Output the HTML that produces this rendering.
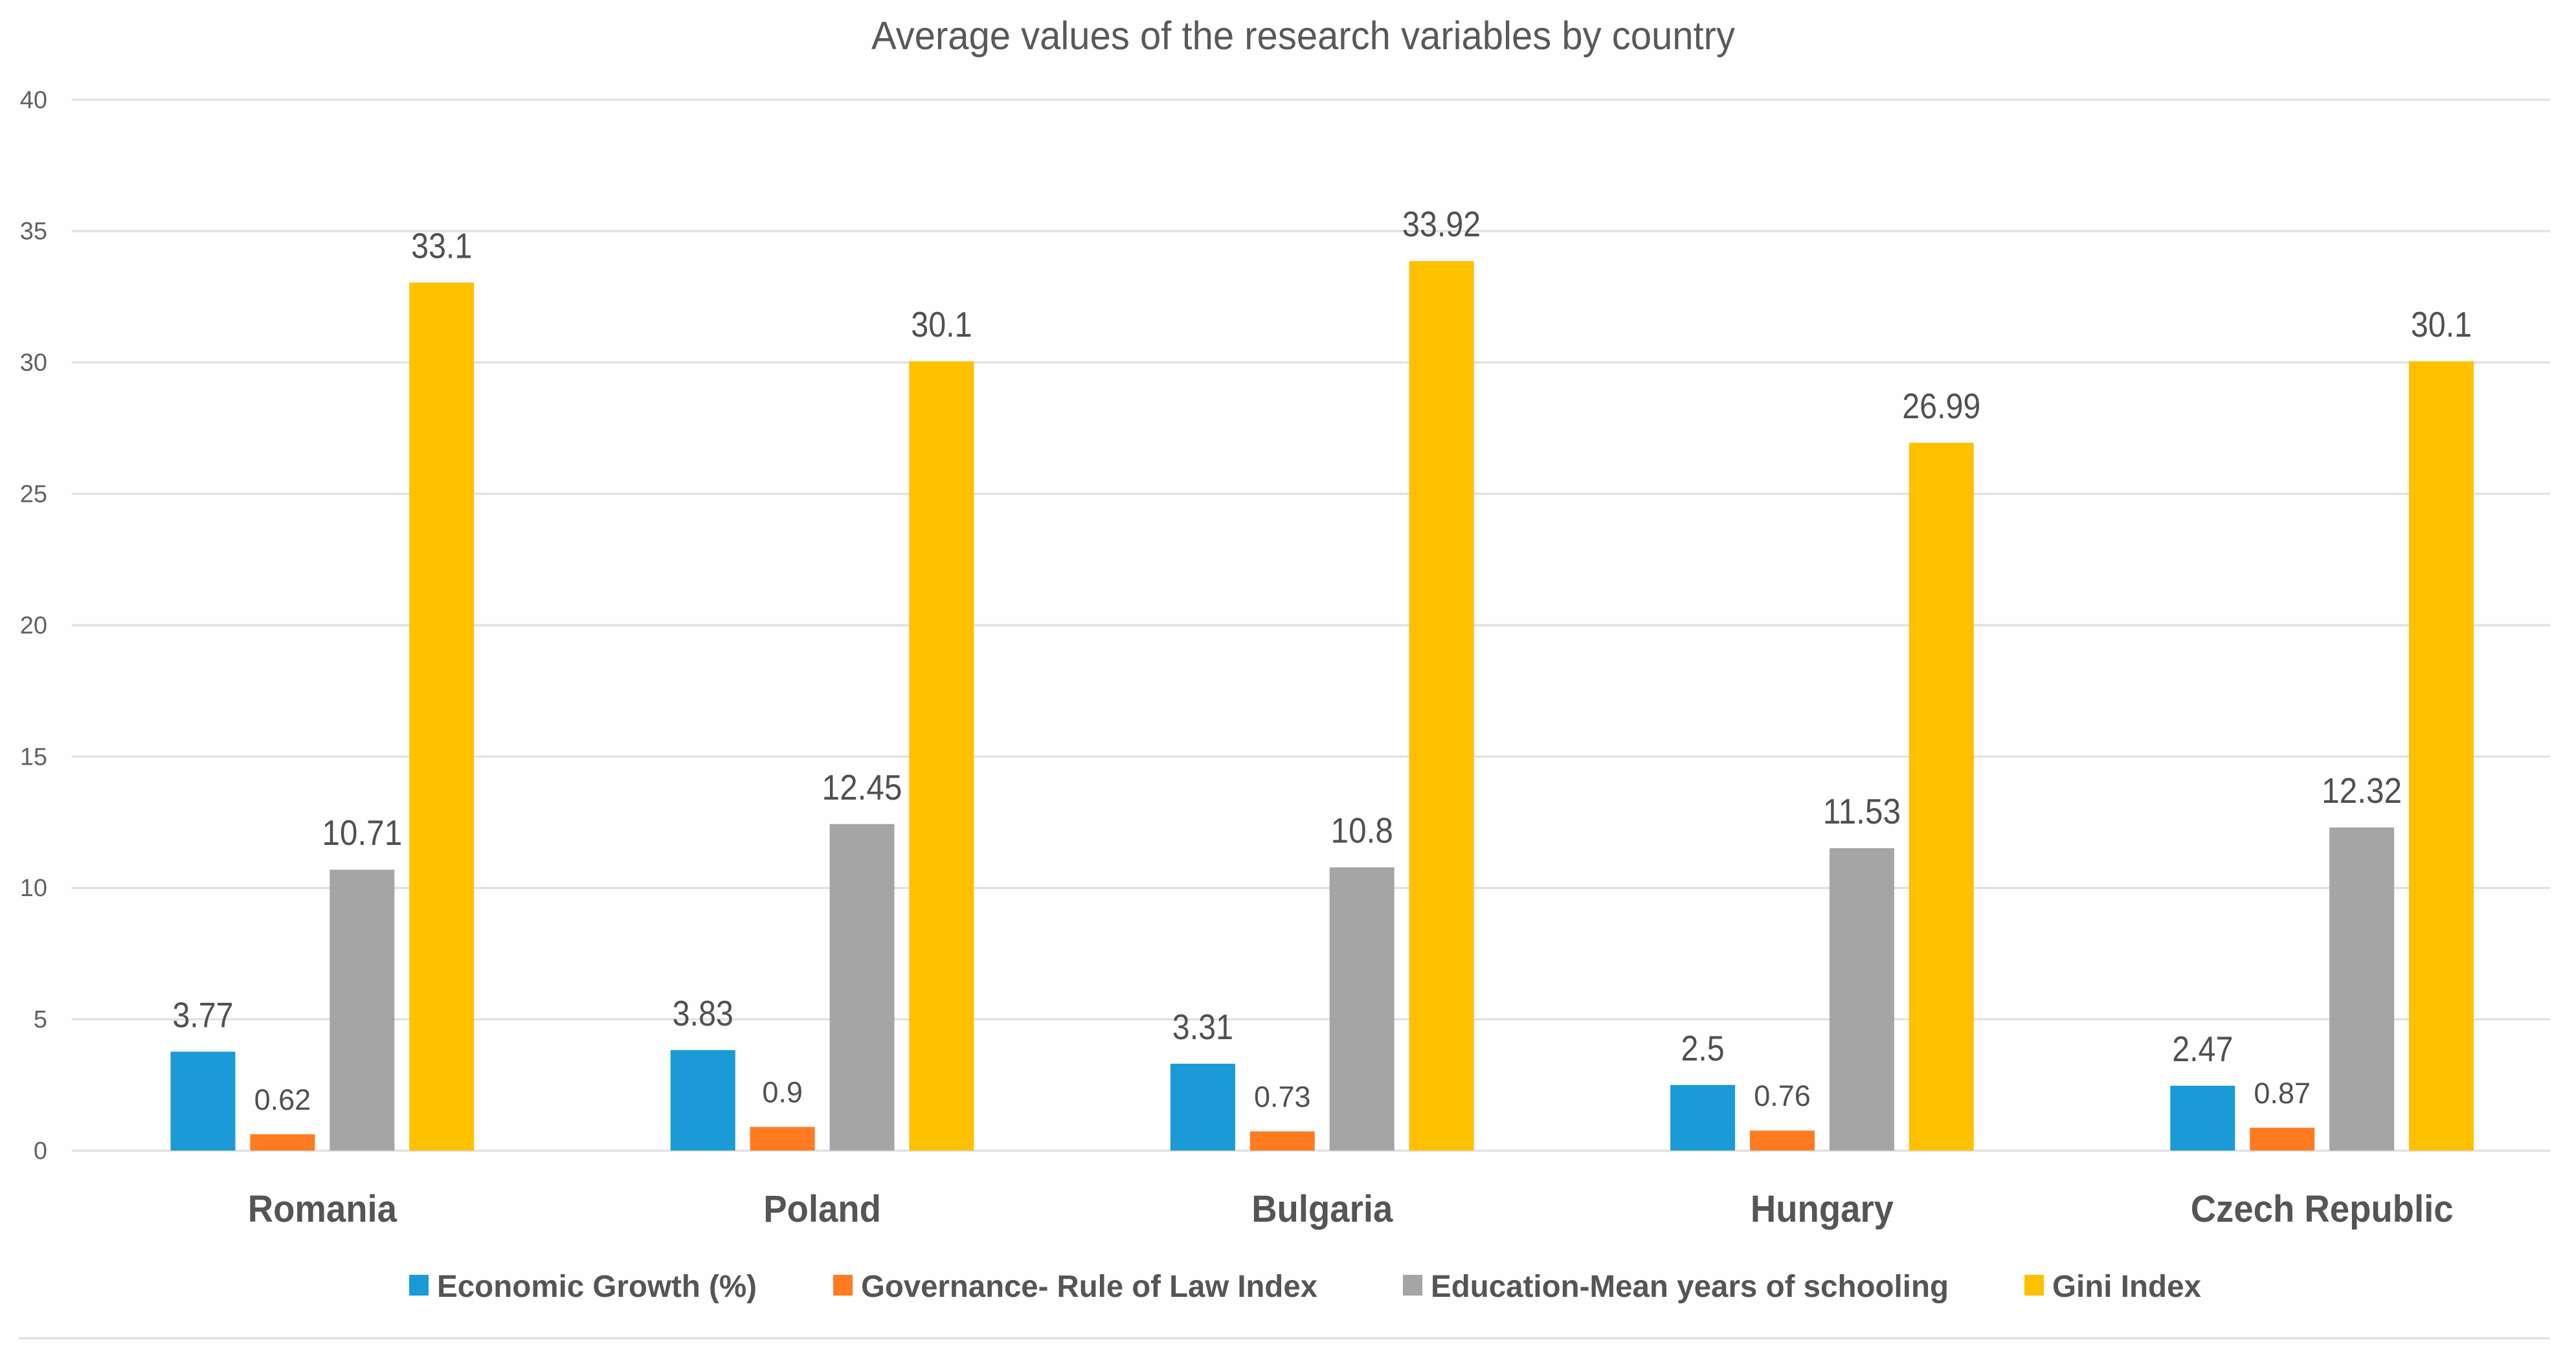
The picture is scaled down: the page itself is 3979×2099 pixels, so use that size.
<!DOCTYPE html>
<html lang="en">
<head>
<meta charset="utf-8">
<title>Average values of the research variables by country</title>
<style>
html,body{margin:0;padding:0;background:#fefefe;}
svg{display:block;font-family:"Liberation Sans",sans-serif;}
</style>
</head>
<body>
<svg id="chart" xmlns="http://www.w3.org/2000/svg" width="3979" height="2099" viewBox="0 0 3979 2099">
  <rect x="0" y="0" width="3979" height="2099" fill="#fefefe"/>
  <text x="1346" y="76" font-size="61" fill="#595959" textLength="1334" lengthAdjust="spacingAndGlyphs">Average values of the research variables by country</text>
  <g id="grid"></g>
  <g id="yaxis"></g>
  <g id="bars"></g>
  <g id="labels"></g>
  <g id="xaxis"></g>
  <g font-size="48" font-weight="700" fill="#555555">
    <rect x="632" y="1969" width="30" height="32" fill="#1a9ad7"/>
    <text x="675" y="2003" textLength="494" lengthAdjust="spacingAndGlyphs">Economic Growth (%)</text>
    <rect x="1287" y="1969" width="30" height="32" fill="#fe7b22"/>
    <text x="1330" y="2003" textLength="705" lengthAdjust="spacingAndGlyphs">Governance- Rule of Law Index</text>
    <rect x="2167" y="1969" width="30" height="32" fill="#a5a5a5"/>
    <text x="2210" y="2003" textLength="800" lengthAdjust="spacingAndGlyphs">Education-Mean years of schooling</text>
    <rect x="3127" y="1969" width="30" height="32" fill="#ffc000"/>
    <text x="3170" y="2003" textLength="230" lengthAdjust="spacingAndGlyphs">Gini Index</text>
  </g>
  <rect x="29" y="2065.5" width="3910" height="3" fill="#dcdcdc"/>
</svg>
<script>
const categories = ["Romania", "Poland", "Bulgaria", "Hungary", "Czech Republic"];
const economicGrowth = [3.77, 3.83, 3.31, 2.5, 2.47];
const governance = [0.62, 0.9, 0.73, 0.76, 0.87];
const education = [10.71, 12.45, 10.8, 11.53, 12.32];
const gini = [33.1, 30.1, 33.92, 26.99, 30.1];
const yTicks = [0, 5, 10, 15, 20, 25, 30, 35, 40];

const NS = "http://www.w3.org/2000/svg";
const seriesList = [
  { values: economicGrowth, color: "#1a9ad7", size: 55, squeeze: 0.88 },
  { values: governance, color: "#fe7b22", size: 45, squeeze: 1 },
  { values: education, color: "#a5a5a5", size: 55, squeeze: 0.9 },
  { values: gini, color: "#ffc000", size: 55, squeeze: 0.88 }
];

function yScale(v) { return 1777 - v * 40.5; }
function xScale(groupIndex, seriesIndex) { return 263.5 + groupIndex * 772.2 + seriesIndex * 122.9; }
function squeezeText(el, k) {
  if (k === 1) return;
  el.setAttribute("textLength", (el.getComputedTextLength() * k).toFixed(1));
  el.setAttribute("lengthAdjust", "spacingAndGlyphs");
}

const grid = document.getElementById("grid");
const yaxis = document.getElementById("yaxis");
const bars = document.getElementById("bars");
const labels = document.getElementById("labels");
const xaxis = document.getElementById("xaxis");
const barWidth = 100;

yTicks.forEach(function (t) {
  const line = document.createElementNS(NS, "rect");
  
  
  line.setAttribute("x", 111);
  line.setAttribute("y", 1777 - t * 40.58 - 1.5);
  line.setAttribute("width", 3828);
  line.setAttribute("height", 3.5);
  line.setAttribute("fill", "#e2e2e2");
  grid.appendChild(line);

  const label = document.createElementNS(NS, "text");
  
  
  label.setAttribute("x", 73);
  label.setAttribute("y", 1777 - t * 40.58 + 13);
  label.setAttribute("text-anchor", "end");
  label.setAttribute("font-size", 38);
  label.setAttribute("fill", "#616161");
  label.textContent = t;
  yaxis.appendChild(label);
});

categories.forEach(function (name, g) {
  seriesList.forEach(function (s, i) {
    const v = s.values[g];
    const x = xScale(g, i);

    const bar = document.createElementNS(NS, "rect");
    
    
    bar.setAttribute("x", x);
    bar.setAttribute("y", yScale(v));
    bar.setAttribute("width", barWidth);
    bar.setAttribute("height", yScale(0) - yScale(v));
    bar.setAttribute("fill", s.color);
    bars.appendChild(bar);

    const label = document.createElementNS(NS, "text");
    
    
    label.setAttribute("x", x + barWidth / 2);
    label.setAttribute("y", yScale(v) - 38);
    label.setAttribute("text-anchor", "middle");
    label.setAttribute("font-size", s.size);
    label.setAttribute("fill", "#505050");
    label.textContent = String(v);
    labels.appendChild(label);
    squeezeText(label, s.squeeze);
  });

  const cat = document.createElementNS(NS, "text");
  
  
  cat.setAttribute("x", (xScale(g, 0) + xScale(g, 3) + barWidth) / 2);
  cat.setAttribute("y", 1887);
  cat.setAttribute("text-anchor", "middle");
  cat.setAttribute("font-size", 58);
  cat.setAttribute("font-weight", "700");
  cat.setAttribute("fill", "#555555");
  cat.textContent = name;
  xaxis.appendChild(cat);
  squeezeText(cat, 0.94);
});
</script>
</body>
</html>
